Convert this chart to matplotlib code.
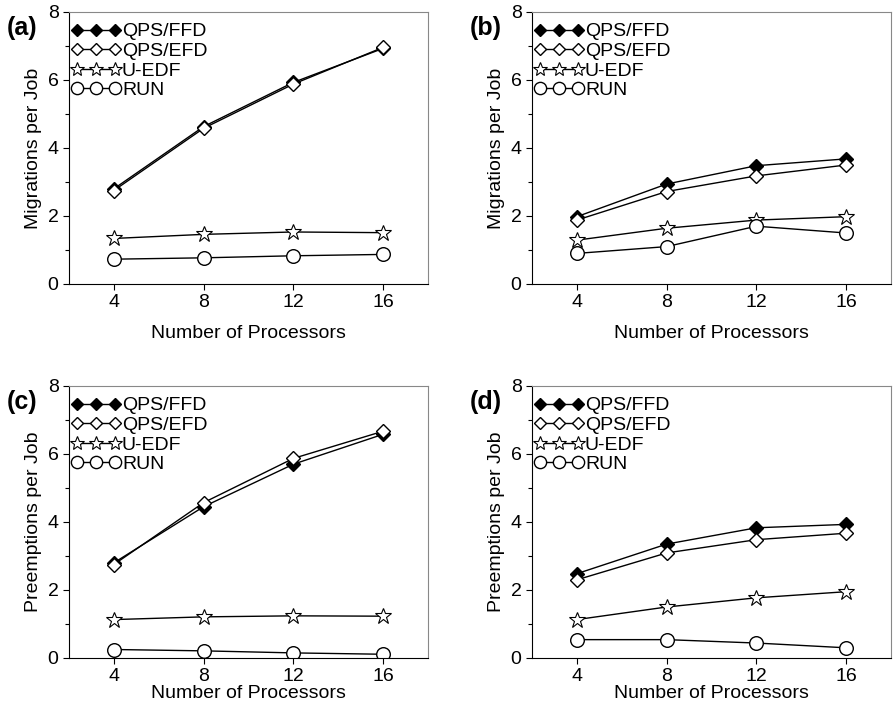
import matplotlib
matplotlib.use("Agg")
import matplotlib.pyplot as plt
from matplotlib.ticker import MultipleLocator

plt.rcParams['font.family'] = ['Liberation Sans', 'DejaVu Sans']

procs = [4, 8, 12, 16]
series_names = ["QPS/FFD", "QPS/EFD", "U-EDF", "RUN"]

# (a) migrations, set 1
mig_a_ffd = [2.80, 4.63, 5.93, 6.93]
mig_a_efd = [2.75, 4.58, 5.88, 6.96]
mig_a_uedf = [1.34, 1.46, 1.53, 1.51]
mig_a_run = [0.73, 0.77, 0.83, 0.87]

# (b) migrations, set 2
mig_b_ffd = [1.98, 2.94, 3.48, 3.68]
mig_b_efd = [1.88, 2.72, 3.18, 3.50]
mig_b_uedf = [1.29, 1.64, 1.88, 1.98]
mig_b_run = [0.90, 1.10, 1.70, 1.50]

# (c) preemptions, set 1
pre_c_ffd = [2.80, 4.45, 5.70, 6.58]
pre_c_efd = [2.75, 4.57, 5.87, 6.67]
pre_c_uedf = [1.13, 1.21, 1.24, 1.23]
pre_c_run = [0.25, 0.21, 0.15, 0.11]

# (d) preemptions, set 2
pre_d_ffd = [2.48, 3.35, 3.83, 3.93]
pre_d_efd = [2.30, 3.09, 3.48, 3.67]
pre_d_uedf = [1.13, 1.50, 1.77, 1.95]
pre_d_run = [0.54, 0.54, 0.44, 0.30]

panels = [
    ("(a)", "Migrations per Job", [mig_a_ffd, mig_a_efd, mig_a_uedf, mig_a_run]),
    ("(b)", "Migrations per Job", [mig_b_ffd, mig_b_efd, mig_b_uedf, mig_b_run]),
    ("(c)", "Preemptions per Job", [pre_c_ffd, pre_c_efd, pre_c_uedf, pre_c_run]),
    ("(d)", "Preemptions per Job", [pre_d_ffd, pre_d_efd, pre_d_uedf, pre_d_run]),
]

styles = [
    dict(marker='D', markersize=6.8, markerfacecolor='black', markeredgecolor='black'),
    dict(marker='D', markersize=6.8, markerfacecolor='white', markeredgecolor='black'),
    dict(marker='*', markersize=12, markerfacecolor='white', markeredgecolor='black', markeredgewidth=0.8),
    dict(marker='o', markersize=9.8, markerfacecolor='white', markeredgecolor='black'),
]

fig = plt.figure(figsize=(8.93, 7.05), dpi=100)
W, H = 893, 705
boxes = [(69, 12), (532, 12), (69, 386), (532, 386)]
pw, ph = 359, 272

for (label, ylabel, data), (x0, y0) in zip(panels, boxes):
    ax = fig.add_axes([x0 / W, 1 - (y0 + ph) / H, pw / W, ph / H])
    for name, vals, st in zip(series_names, data, styles):
        ax.plot(procs, vals, color='black', linewidth=1.0, label=name, **st)
    ax.set_xlim(2, 18)
    ax.set_ylim(0, 8)
    ax.set_xticks(procs)
    ax.yaxis.set_major_locator(MultipleLocator(2))
    ax.yaxis.set_minor_locator(MultipleLocator(1))
    ax.tick_params(axis='both', which='major', direction='out', length=4, labelsize=14, width=0.8)
    ax.tick_params(axis='y', which='minor', direction='out', length=3, width=0.8)
    for s in ('top', 'right'):
        ax.spines[s].set_color('#888888')
    for s in ('left', 'bottom'):
        ax.spines[s].set_color('black')
    ax.set_ylabel(ylabel, fontsize=14, labelpad=4)
    if label in ("(a)", "(b)"):
        ax.set_xlabel("Number of Processors", fontsize=14, labelpad=10)
    else:
        ax.set_xlabel("Number of Processors", fontsize=14, labelpad=0)
    ax.legend(loc='upper left', bbox_to_anchor=(0.006, 0.96), numpoints=3,
              frameon=False, fontsize=14, handlelength=2.56, handletextpad=0.05,
              borderaxespad=0.0, borderpad=0.0, labelspacing=0.1, markerscale=0.9)
    fig.text((x0 - 62) / W, 1 - (y0 + 16) / H, label, fontsize=18,
             fontweight='bold', va='center', ha='left')

fig.savefig("out.png", dpi=100)
